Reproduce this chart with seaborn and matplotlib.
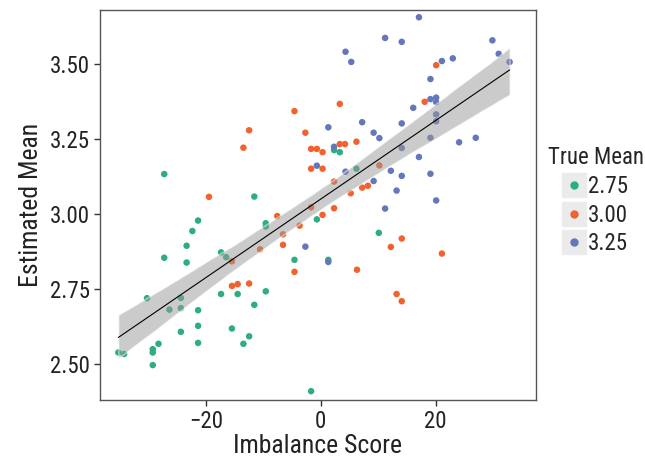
import numpy as np
import pandas as pd
import seaborn as sns
import matplotlib.pyplot as plt
from matplotlib.lines import Line2D
from matplotlib.legend_handler import HandlerTuple

sns.set_style('white')
plt.rcParams['font.family'] = ['Roboto Condensed', 'Arial Narrow', 'Roboto', 'DejaVu Sans']

# data
x_275 = [-27.3, -11.6, -0.7, -9.6, -9.6, -21.4, -22.4, -23.4, -27.3, -23.4,
         -17.4, -16.5, -4.6, -17.4, -14.5, -9.6, -30.3, -24.4, -26.4, -24.4,
         -21.4, -11.6, -21.4, -15.5, -24.4, -12.5, -13.5, -21.4, -28.3, -29.3,
         -29.3, -35.3, -34.3, -29.3, -1.7, 2.3, 3.3, 6.2, 10.1, 1.3]
y_275 = [3.133, 3.058, 2.982, 2.969, 2.958, 2.978, 2.943, 2.894, 2.854, 2.838,
         2.872, 2.856, 2.847, 2.733, 2.733, 2.742, 2.719, 2.720, 2.681, 2.686,
         2.679, 2.697, 2.627, 2.618, 2.607, 2.592, 2.567, 2.570, 2.567, 2.549,
         2.538, 2.538, 2.533, 2.496, 2.409, 3.213, 3.206, 3.151, 2.937, 2.847]

x_300 = [-4.6, -12.5, -2.7, -13.5, -1.7, -0.7, -1.7, -19.5, 0.3, 3.3,
         3.3, 4.2, 6.2, 0.3, 10.2, 2.3, 7.2, 8.2, 5.2, 20.1,
         18.1, -1.7, 2.3, 0.3, -3.7, -7.6, -6.6, -6.6, -10.6, -15.5,
         -4.6, -15.5, -14.5, -12.5, 14.1, 12.2, 21.1, 6.3, 13.2, 14.1]
y_300 = [3.343, 3.279, 3.271, 3.221, 3.217, 3.217, 3.151, 3.057, 3.206, 3.367,
         3.233, 3.233, 3.241, 3.151, 3.162, 3.108, 3.088, 3.094, 3.069, 3.496,
         3.374, 3.022, 3.019, 2.997, 2.961, 2.993, 2.932, 2.897, 2.882, 2.842,
         2.807, 2.760, 2.766, 2.768, 2.918, 2.890, 2.868, 2.814, 2.733, 2.709]

x_325 = [-0.7, 17.1, 11.2, 14.1, 4.3, 5.3, 29.9, 31.0, 32.9, 21.1,
         23.0, 19.1, 19.1, 20.1, 20.1, 16.1, 20.1, 20.1, 1.3, 7.2,
         14.1, 9.2, 10.2, 19.1, 24.1, 27.0, 2.3, 14.1, 17.1, 4.3,
         12.2, 14.1, 19.1, 9.2, 13.2, 20.1, 11.2, -2.7, 1.3]
y_325 = [3.161, 3.656, 3.587, 3.574, 3.541, 3.507, 3.579, 3.534, 3.507, 3.510,
         3.519, 3.450, 3.383, 3.388, 3.373, 3.354, 3.332, 3.309, 3.289, 3.306,
         3.302, 3.271, 3.253, 3.254, 3.239, 3.254, 3.224, 3.220, 3.190, 3.141,
         3.144, 3.127, 3.134, 3.110, 3.078, 3.045, 3.018, 2.891, 2.840]

groups = ['2.75', '3.00', '3.25']
colors = ['#2cae7f', '#f3612d', '#6577bb']

df = pd.DataFrame({
    'Imbalance Score': x_275 + x_300 + x_325,
    'Estimated Mean': y_275 + y_300 + y_325,
    'True Mean': ['2.75'] * len(x_275) + ['3.00'] * len(x_300) + ['3.25'] * len(x_325),
})

fig = plt.figure(figsize=(6.45, 4.57), dpi=100)
ax = fig.add_axes([0.155, 0.125, 0.676, 0.853])

sns.scatterplot(data=df, x='Imbalance Score', y='Estimated Mean', hue='True Mean',
                hue_order=groups, palette=dict(zip(groups, colors)),
                s=22, linewidth=0, legend=False, ax=ax)

# 拟合线 + 置信区间（画在点上面）
sns.regplot(data=df, x='Imbalance Score', y='Estimated Mean', scatter=False,
            color='black', line_kws={'linewidth': 0.8}, ax=ax)
band = ax.collections[-1]
band.set_facecolor('#999999')
band.set_alpha(0.5)

ax.set_xlim(-38.5, 37.5)
ax.set_ylim(2.38, 3.68)
ax.set_xticks([-20, 0, 20])
ax.set_yticks([2.50, 2.75, 3.00, 3.25, 3.50])
ax.set_yticklabels([f'{v:.2f}' for v in [2.50, 2.75, 3.00, 3.25, 3.50]])
ax.tick_params(axis='both', labelsize=16.5, length=4, width=1, color='#333333',
               labelcolor='#222222', direction='out', bottom=True, left=True, pad=3)
ax.set_xlabel('Imbalance Score', fontsize=18.5, color='#222222', labelpad=1)
ax.set_ylabel('Estimated Mean', fontsize=18.5, color='#222222', labelpad=5)
for sp in ax.spines.values():
    sp.set_color('#555555')
    sp.set_linewidth(1.0)

# 图例（灰色底的小方块）
handles = []
for c in colors:
    key = Line2D([], [], marker='s', markersize=17, color='#ebebeb', linestyle='')
    dot = Line2D([], [], marker='o', markersize=5, color=c, linestyle='')
    handles.append((key, dot))
fig.legend(handles, groups, title='True Mean', loc='upper left',
           bbox_to_anchor=(0.849, 0.680), frameon=False, fontsize=16.5,
           title_fontsize=16.5, handler_map={tuple: HandlerTuple(ndivide=1)},
           handlelength=1.0, handletextpad=0.1, labelspacing=0.25,
           borderaxespad=0, borderpad=0, alignment='center')

fig.savefig('out.png', dpi=100)
